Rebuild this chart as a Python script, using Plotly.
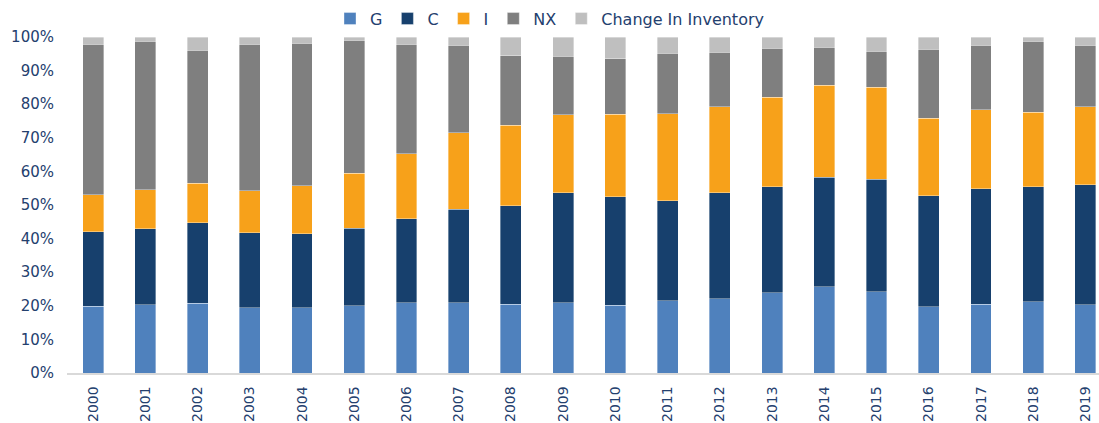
import plotly.graph_objects as go

years = [str(y) for y in range(2000, 2020)]
# Shares of total (%)
G = [19.9, 20.3, 20.8, 19.4, 19.4, 20.0, 20.9, 20.9, 20.5, 20.9,
     20.2, 21.5, 22.1, 23.9, 25.6, 24.2, 19.7, 20.5, 21.2, 20.3]
C = [22.1, 22.7, 23.85, 22.4, 22.1, 23.1, 25.0, 27.8, 29.3, 32.7,
     32.3, 29.8, 31.5, 31.6, 32.6, 33.4, 33.1, 34.3, 34.2, 35.7]
I = [11.1, 11.5, 11.85, 12.4, 14.2, 16.4, 19.3, 22.8, 23.9, 23.2,
     24.5, 25.8, 25.6, 26.5, 27.4, 27.4, 23.0, 23.5, 22.2, 23.2]
NX = [44.7, 44.3, 39.5, 43.7, 42.5, 39.5, 32.7, 26.1, 20.7, 17.5,
      16.5, 18.0, 16.3, 14.7, 11.4, 10.7, 20.6, 19.2, 21.2, 18.4]
INV = [2.2, 1.2, 4.0, 2.1, 1.8, 1.0, 2.1, 2.4, 5.6, 5.7,
       6.5, 4.9, 4.5, 3.3, 3.0, 4.3, 3.6, 2.5, 1.2, 2.4]

series = [
    ("G", G, "#4F81BD"),
    ("C", C, "#17406D"),
    ("I", I, "#F7A11A"),
    ("NX", NX, "#7F7F7F"),
    ("Change In Inventory", INV, "#BFBFBF"),
]

font_family = "'DejaVu Sans', sans-serif"
text_color = "#24406E"

fig = go.Figure()
for name, vals, color in series:
    fig.add_trace(go.Bar(
        x=years, y=vals, name=name,
        marker=dict(color=color, line=dict(color="rgba(255,255,255,0.6)", width=0.6)),
    ))

fig.update_layout(
    width=1099, height=423,
    barmode="stack", bargap=0.6,
    plot_bgcolor="white", paper_bgcolor="white",
    margin=dict(l=67, r=0, t=37, b=50, autoexpand=False),
    font=dict(family=font_family, size=15, color=text_color),
    legend=dict(
        orientation="h", traceorder="normal",
        xref="container", x=0.5, xanchor="center",
        yref="paper", y=1.004, yanchor="bottom",
        font=dict(size=16, color=text_color),
        itemwidth=30,
    ),
    showlegend=True,
)
fig.update_xaxes(
    type="category", range=[-0.5, 19.26],
    tickangle=-90, showgrid=False, ticks="",
    showline=True, linecolor="#D9D9D9", linewidth=1.5,
    tickfont=dict(size=14, color=text_color),
    ticklabelstandoff=6,
)
fig.update_yaxes(
    range=[0, 100], dtick=10, ticksuffix="%",
    showgrid=False, zeroline=False, showline=False,
    tickfont=dict(size=15, color=text_color),
    ticklabelstandoff=12,
)

fig.write_html(
    "out.html",
    config={"displayModeBar": False},
    post_script="document.body.style.margin='0';document.body.style.overflow='hidden';",
)
